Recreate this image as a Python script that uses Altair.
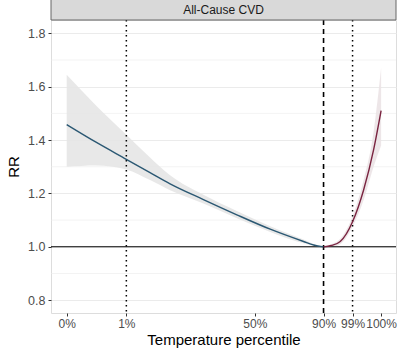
import altair as alt
import pandas as pd

# ---- data ----
temp_low = [-10.0, -6.26, -2.39, 0.63, 3.19, 7.44, 11.70, 15.96, 20.21, 21.5, 22.76]
rr_low = [1.458, 1.392, 1.328, 1.278, 1.236, 1.177, 1.120, 1.066, 1.020, 1.007, 1.0]
lo_low = [1.300, 1.305, 1.290, 1.250, 1.212, 1.162, 1.107, 1.056, 1.013, 1.004, 1.0]
hi_low = [1.645, 1.530, 1.420, 1.335, 1.268, 1.195, 1.134, 1.077, 1.027, 1.010, 1.0]

temp_high = [22.76, 23.74, 24.89, 26.46, 27.87, 29.14, 30.1]
rr_high = [1.0, 1.005, 1.020, 1.094, 1.213, 1.363, 1.51]
lo_high = [1.0, 1.000, 1.010, 1.075, 1.175, 1.300, 1.38]
hi_high = [1.0, 1.010, 1.030, 1.115, 1.250, 1.430, 1.67]

tick_temps = [-10.0, -2.39, 14.0, 22.76, 26.46, 30.1]
tick_labels = ["0%", "1%", "50%", "90%", "99%", "100%"]

dotted_temps = [-2.39, 26.46]   # 1st and 99th percentile
mmt_temp = [22.76]              # minimum mortality temperature (90th)

major_breaks = [0.8, 1.0, 1.2, 1.4, 1.6, 1.8]
minor_breaks = [0.9, 1.1, 1.3, 1.5, 1.7]
panel_title = "All-Cause CVD"

W, H = 345, 293
XDOM = [-12.0, 32.0]
YDOM = [0.752, 1.85]

low = pd.DataFrame({"t": temp_low, "rr": rr_low, "lo": lo_low, "hi": hi_low})
high = pd.DataFrame({"t": temp_high, "rr": rr_high, "lo": lo_high, "hi": hi_high})

label_expr = " : ".join(
    f"abs(datum.value - ({v})) < 0.01 ? '{l}'" for v, l in zip(tick_temps, tick_labels)
) + " : ''"

xs = alt.Scale(domain=XDOM, nice=False, zero=False)
ys = alt.Scale(domain=YDOM, nice=False, zero=False)

x_axis = alt.Axis(values=tick_temps, labelExpr=label_expr, grid=False, title="Temperature percentile",
                  labelColor="#4d4d4d", labelFontSize=12, tickColor="#333333", tickSize=3,
                  labelPadding=2, titleFontSize=15, titleFontWeight="normal", titleColor="#000000",
                  titlePadding=3, domain=False, labelFlush=False, labelOverlap=False)
y_axis = alt.Axis(values=major_breaks, format=".1f", grid=True, gridColor="#ebebeb", gridWidth=1.1,
                  title="RR", labelColor="#4d4d4d", labelFontSize=12.5, tickColor="#333333", tickSize=3,
                  labelPadding=3, titleFontSize=15, titleFontWeight="normal", titleColor="#000000",
                  titlePadding=6, domain=False)

base_axes = alt.Chart(pd.DataFrame({"t": [XDOM[0]], "rr": [YDOM[0]]})).mark_point(opacity=0).encode(
    x=alt.X("t:Q", scale=xs, axis=x_axis),
    y=alt.Y("rr:Q", scale=ys, axis=y_axis),
)

minor = alt.Chart(pd.DataFrame({"y": minor_breaks})).mark_rule(color="#ebebeb", strokeWidth=0.6).encode(
    y=alt.Y("y:Q", scale=ys)
)

band_low = alt.Chart(low).mark_area(color="#e6e6e6", opacity=0.9, interpolate="monotone").encode(
    x=alt.X("t:Q", scale=xs), y=alt.Y("lo:Q", scale=ys), y2="hi:Q"
)
band_high = alt.Chart(high).mark_area(color="#ebe3e5", opacity=0.9, interpolate="monotone").encode(
    x=alt.X("t:Q", scale=xs), y=alt.Y("lo:Q", scale=ys), y2="hi:Q"
)

hline = alt.Chart(pd.DataFrame({"y": [1.0]})).mark_rule(color="#000000", strokeWidth=1.1).encode(
    y=alt.Y("y:Q", scale=ys)
)
vdot = alt.Chart(pd.DataFrame({"t": dotted_temps})).mark_rule(
    color="#000000", strokeWidth=1.5, strokeDash=[1.5, 3.5]).encode(x=alt.X("t:Q", scale=xs))
vdash = alt.Chart(pd.DataFrame({"t": mmt_temp})).mark_rule(
    color="#000000", strokeWidth=1.6, strokeDash=[5, 4]).encode(x=alt.X("t:Q", scale=xs))

line_low = alt.Chart(low).mark_line(color="#2b5873", strokeWidth=1.4, interpolate="monotone").encode(
    x=alt.X("t:Q", scale=xs), y=alt.Y("rr:Q", scale=ys)
)
line_high = alt.Chart(high).mark_line(color="#7a2440", strokeWidth=1.4, interpolate="monotone").encode(
    x=alt.X("t:Q", scale=xs), y=alt.Y("rr:Q", scale=ys)
)

strip = alt.Chart(pd.DataFrame({"s": [panel_title]})).mark_rect(
    fill="#d9d9d9", stroke="#666666", strokeWidth=1, clip=False).encode(
    x=alt.value(0), x2=alt.value(W), y=alt.value(-22), y2=alt.value(0)
)
strip_text = alt.Chart(pd.DataFrame({"s": [panel_title]})).mark_text(
    font="Liberation Sans", fontSize=12, color="#1a1a1a", baseline="middle", align="center", clip=False
).encode(x=alt.value(W / 2), y=alt.value(-10.5), text="s:N")

chart = alt.layer(
    base_axes, minor, band_low, band_high, hline, vdot, vdash, line_low, line_high, strip, strip_text
).properties(
    width=W, height=H,
    autosize=alt.AutoSizeParams(type="none"),
    padding={"left": 51, "top": 20, "right": 4, "bottom": 39},
    background="#ffffff",
).configure_view(
    stroke="#666666", strokeWidth=1.2
).configure(
    font="Liberation Sans"
)

chart.save("out.html", embed_options={"renderer": "svg", "actions": False})
